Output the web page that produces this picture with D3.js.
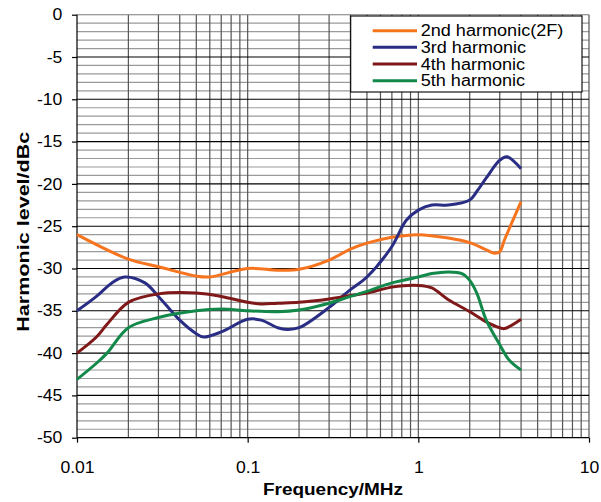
<!DOCTYPE html>
<html>
<head>
<meta charset="utf-8">
<script src="https://cdn.jsdelivr.net/npm/d3@7"></script>
<style>
  html, body { margin: 0; padding: 0; background: #fff; }
  svg { display: block; }
  text { font-family: "Liberation Sans", Arial, sans-serif; fill: #000; }
</style>
</head>
<body>
<svg id="chart" width="601" height="502"></svg>
<script>
// ---- data ----
const seriesNames = ["2nd harmonic(2F)", "3rd harmonic", "4th harmonic", "5th harmonic"];
const seriesColors = ["#f7741f", "#2a2d84", "#7f1818", "#12894a"];

const freq2nd = [0.01, 0.02, 0.03, 0.05, 0.06, 0.1, 0.15, 0.2, 0.3, 0.4, 0.5, 0.7, 1, 1.5, 2, 2.5, 2.8, 3, 3.2, 4];
const val2nd  = [-26, -28.9, -29.8, -30.9, -31, -30, -30.2, -30.1, -29, -27.7, -27, -26.3, -26, -26.4, -26.95, -27.8, -28.2, -28, -26.6, -22.1];

const freq3rd = [0.01, 0.013, 0.016, 0.019, 0.025, 0.03, 0.04, 0.05, 0.055, 0.07, 0.1, 0.12, 0.15, 0.17, 0.2, 0.3, 0.4, 0.5, 0.7, 0.85, 1, 1.2, 1.5, 2, 2.2, 2.5, 3, 3.3, 4];
const val3rd  = [-35, -33.3, -31.7, -31, -31.7, -33.3, -36.1, -37.7, -38.1, -37.5, -36, -36.1, -37, -37.2, -37, -34.6, -32.5, -31, -27.4, -24.3, -23.1, -22.5, -22.5, -21.9, -20.9, -19.3, -17.2, -16.8, -18.2];

const freq4th = [0.01, 0.013, 0.015, 0.02, 0.03, 0.05, 0.07, 0.1, 0.12, 0.15, 0.2, 0.3, 0.4, 0.5, 0.7, 1, 1.2, 1.5, 2, 2.5, 3, 3.2, 4];
const val4th  = [-40, -38.1, -36.6, -34, -33, -32.9, -33.3, -34, -34.2, -34.1, -34, -33.6, -33.2, -32.9, -32.2, -32, -32.3, -33.7, -35.1, -36.3, -37, -37.1, -36];

const freq5th = [0.01, 0.013, 0.015, 0.02, 0.03, 0.05, 0.07, 0.1, 0.15, 0.2, 0.3, 0.4, 0.5, 0.7, 1, 1.2, 1.5, 1.8, 2, 2.2, 2.5, 3, 3.4, 4];
const val5th  = [-43.1, -41.2, -40, -37, -35.8, -35, -34.8, -35, -35.1, -34.9, -34.1, -33.3, -32.7, -31.7, -31, -30.6, -30.4, -30.6, -31.4, -32.9, -36.1, -39, -40.8, -42];

const xTickValues = [0.01, 0.1, 1, 10];
const yTickValues = [-50, -45, -40, -35, -30, -25, -20, -15, -10, -5, 0];
const xTitle = "Frequency/MHz";
const yTitle = "Harmonic level/dBc";

// ---- layout ----
const L = 77, R = 589, T = 14.7, B = 437.7;
const svg = d3.select("#chart");
const x = d3.scaleLog().domain([0.01, 10]).range([L, R]);
const y = d3.scaleLinear().domain([-50, 0]).range([B, T]);

// grid
const grid = svg.append("g");
const minorY = d3.range(-49, 0).filter(v => v % 5 !== 0);
grid.selectAll(".hmin").data(minorY).join("line")
  .attr("x1", L).attr("x2", R).attr("y1", d => y(d)).attr("y2", d => y(d))
  .attr("stroke", "#9a9a9a").attr("stroke-width", 1.2);
const minorX = [];
[0.01, 0.1, 1].forEach(d => { for (let k = 2; k <= 9; k++) minorX.push(d * k); });
grid.selectAll(".vmin").data(minorX.concat([0.1, 1, 10])).join("line")
  .attr("y1", T).attr("y2", B).attr("x1", d => x(d)).attr("x2", d => x(d))
  .attr("stroke", "#555").attr("stroke-width", 1.2);
grid.selectAll(".hmaj").data(yTickValues.filter(v => v !== -50)).join("line")
  .attr("x1", L).attr("x2", R).attr("y1", d => y(d)).attr("y2", d => y(d))
  .attr("stroke", d => d === 0 ? "#7a7a7a" : "#000").attr("stroke-width", 1.1);

// axes
const sx = 1.1;
const yAxis = svg.append("g").attr("transform", `translate(${L},0)`)
  .call(d3.axisLeft(y).tickValues(yTickValues).tickSize(5).tickFormat(d => String(d)));
yAxis.select(".domain").attr("stroke", "#000").attr("stroke-width", 1.2).attr("d", `M0,${T}V${B}`);
yAxis.selectAll(".tick line").attr("stroke", "#000").attr("stroke-width", 1.2);
yAxis.selectAll(".tick text")
  .attr("font-size", 16).attr("font-family", "Liberation Sans, Arial, sans-serif")
  .attr("x", -14.7 / sx).attr("transform", `scale(${sx},1)`);

const xAxis = svg.append("g").attr("transform", `translate(0,${B})`)
  .call(d3.axisBottom(x).tickValues(xTickValues).tickSize(5).tickPadding(19).tickFormat(d => String(d)));
xAxis.select(".domain").attr("stroke", "#000").attr("stroke-width", 1.2).attr("d", `M${L},0H${R}`);
xAxis.selectAll(".tick line").attr("stroke", "#000").attr("stroke-width", 1.2);
xAxis.selectAll(".tick text")
  .attr("font-size", 16).attr("font-family", "Liberation Sans, Arial, sans-serif")
  .attr("transform", `scale(${sx},1)`);

// series
const series = [
  { f: freq2nd, v: val2nd },
  { f: freq3rd, v: val3rd },
  { f: freq4th, v: val4th },
  { f: freq5th, v: val5th }
];
const line = d3.line().x(d => x(d[0])).y(d => y(d[1])).curve(d3.curveCatmullRom.alpha(0.5));
series.forEach((s, i) => {
  svg.append("path")
    .datum(s.f.map((f, j) => [f, s.v[j]]))
    .attr("d", line).attr("fill", "none")
    .attr("stroke", seriesColors[i]).attr("stroke-width", 3)
    .attr("stroke-linejoin", "round").attr("stroke-linecap", "butt");
});

// legend
const lg = svg.append("g");
lg.append("rect").attr("x", 350.7).attr("y", 16).attr("width", 231.3).attr("height", 76)
  .attr("fill", "#fff").attr("stroke", "#000").attr("stroke-width", 1.1);
const rows = [30.7, 47.3, 64, 80.7];
seriesNames.forEach((n, i) => {
  lg.append("line").attr("x1", 372.7).attr("x2", 417).attr("y1", rows[i]).attr("y2", rows[i])
    .attr("stroke", seriesColors[i]).attr("stroke-width", 3);
  lg.append("text").attr("transform", `translate(420.7,${rows[i] + 5.7}) scale(1.13,1)`)
    .attr("font-size", 16).text(n);
});

// titles
svg.append("text").attr("x", 333).attr("y", 495).attr("text-anchor", "middle")
  .attr("font-size", 16).attr("font-weight", "bold")
  .attr("textLength", 140).attr("lengthAdjust", "spacingAndGlyphs").text(xTitle);
svg.append("text").attr("transform", "translate(28.5,231.7) rotate(-90)").attr("text-anchor", "middle")
  .attr("font-size", 16).attr("font-weight", "bold")
  .attr("textLength", 200).attr("lengthAdjust", "spacingAndGlyphs").text(yTitle);
</script>
</body>
</html>
